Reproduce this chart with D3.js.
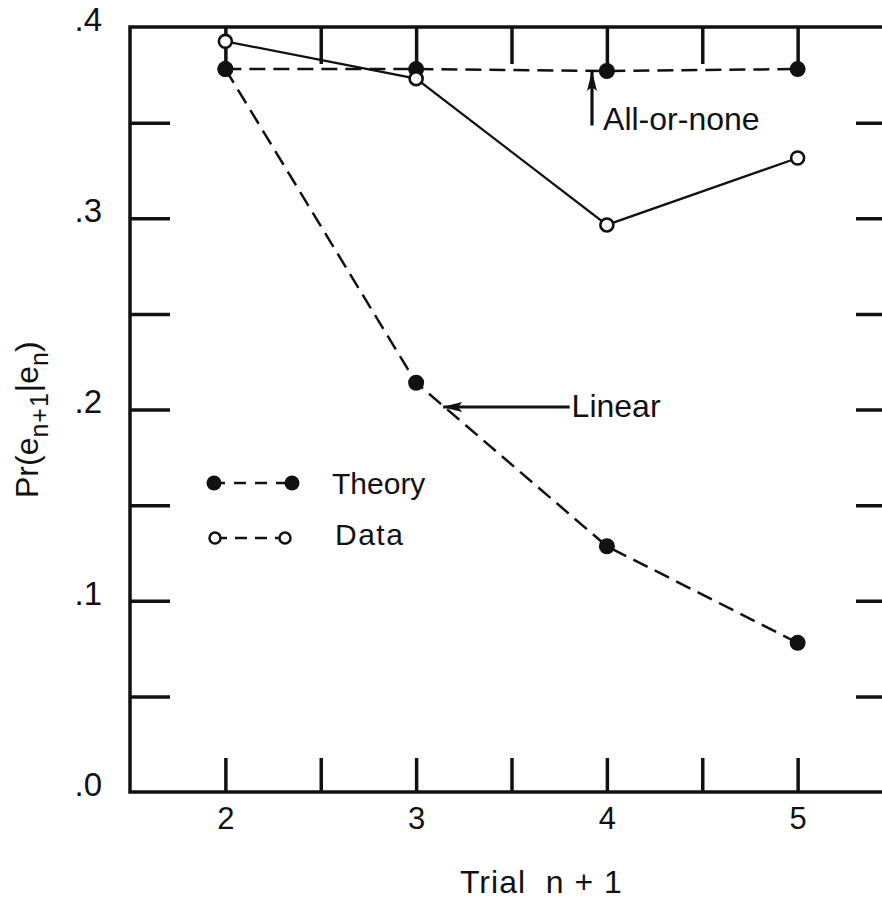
<!DOCTYPE html>
<html>
<head>
<meta charset="utf-8">
<script src="https://cdn.jsdelivr.net/npm/d3@7"></script>
<style>
  html, body { margin: 0; padding: 0; background: #fff; }
  svg { display: block; }
  text { font-family: "Liberation Sans", Arial, sans-serif; fill: #111; }
</style>
</head>
<body>
<svg id="chart" width="882" height="902"></svg>
<script>
// ---- data ----
const trials = [2, 3, 4, 5];
const allOrNone = [0.378, 0.378, 0.377, 0.378];
const linear = [0.378, 0.214, 0.1285, 0.078];
const observed = [0.3925, 0.373, 0.2965, 0.3315];
const xTickValues = [2, 2.5, 3, 3.5, 4, 4.5, 5];
const xTickLabels = ["2", "", "3", "", "4", "", "5"];
const yTickValues = [0, 0.05, 0.1, 0.15, 0.2, 0.25, 0.3, 0.35, 0.4];
const yTickLabels = [".0", "", ".1", "", ".2", "", ".3", "", ".4"];

const svg = d3.select("#chart");
const L = 130, R = 893, T = 27, B = 792;
const x = d3.scaleLinear().domain([1.5, 5.5]).range([L, R]);
const y = d3.scaleLinear().domain([0, 0.4]).range([B, T]);

const ink = "#111";

// ---- frame ----
svg.append("rect").attr("x", L).attr("y", T).attr("width", R - L).attr("height", B - T)
  .attr("fill", "none").attr("stroke", ink).attr("stroke-width", 3.5);

// ---- axes (ticks pointing inward) ----
const bottomAxis = d3.axisBottom(x).tickValues(xTickValues).tickSize(-34).tickPadding(50)
  .tickFormat((d, i) => xTickLabels[i]);
const gB = svg.append("g").attr("transform", `translate(0,${B})`).call(bottomAxis);
gB.select(".domain").remove();
gB.selectAll(".tick line").attr("stroke", ink).attr("stroke-width", 3.5);
gB.selectAll(".tick text").attr("font-size", 31).attr("y", 15).attr("dy", "0.71em");

const topAxis = d3.axisTop(x).tickValues(xTickValues).tickSize(-37).tickFormat("");
const gT = svg.append("g").attr("transform", `translate(0,${T})`).call(topAxis);
gT.select(".domain").remove();
gT.selectAll(".tick line").attr("stroke", ink).attr("stroke-width", 3.5);

const leftAxis = d3.axisLeft(y).tickValues(yTickValues).tickSize(-40)
  .tickFormat((d, i) => yTickLabels[i]);
const gL = svg.append("g").attr("transform", `translate(${L},0)`).call(leftAxis);
gL.select(".domain").remove();
gL.selectAll(".tick line").attr("stroke", ink).attr("stroke-width", 3.5)
  .filter(d => d === 0 || d === 0.4).remove();
gL.selectAll(".tick text").attr("font-size", 33).attr("x", -28).attr("dy", "0.1em");

const rightAxis = d3.axisRight(y).tickValues(yTickValues).tickSize(-37).tickFormat("");
const gR = svg.append("g").attr("transform", `translate(${R},0)`).call(rightAxis);
gR.select(".domain").remove();
gR.selectAll(".tick line").attr("stroke", ink).attr("stroke-width", 3.5)
  .filter(d => d === 0 || d === 0.4).remove();

// ---- lines ----
const line = d3.line().x((d, i) => x(trials[i])).y(d => y(d));

svg.append("path").datum(allOrNone).attr("d", line)
  .attr("fill", "none").attr("stroke", ink).attr("stroke-width", 2.5)
  .attr("stroke-dasharray", "16,8");
svg.append("path").datum(linear).attr("d", line)
  .attr("fill", "none").attr("stroke", ink).attr("stroke-width", 2.5)
  .attr("stroke-dasharray", "16,8");
svg.append("path").datum(observed).attr("d", line)
  .attr("fill", "none").attr("stroke", ink).attr("stroke-width", 2.3);

// ---- markers ----
svg.selectAll(".aon").data(allOrNone).enter().append("circle")
  .attr("cx", (d, i) => x(trials[i])).attr("cy", d => y(d)).attr("r", 8).attr("fill", ink);
svg.selectAll(".lin").data(linear).enter().append("circle")
  .attr("cx", (d, i) => x(trials[i])).attr("cy", d => y(d)).attr("r", 8).attr("fill", ink);
svg.selectAll(".obs").data(observed).enter().append("circle")
  .attr("cx", (d, i) => x(trials[i])).attr("cy", d => y(d)).attr("r", 6.5)
  .attr("fill", "#fff").attr("stroke", ink).attr("stroke-width", 2.6);

// ---- annotations ----
const defs = svg.append("defs");
defs.append("marker").attr("id", "ah").attr("viewBox", "0 0 20 10")
  .attr("refX", 19).attr("refY", 5)
  .attr("markerUnits", "userSpaceOnUse").attr("orient", "auto")
  .attr("markerWidth", 20).attr("markerHeight", 10)
  .append("path").attr("d", "M0,0 L20,5 L0,10 L4,5 Z").attr("fill", ink);

// All-or-none
svg.append("line").attr("x1", x(3.922)).attr("x2", x(3.922))
  .attr("y1", y(0.3485)).attr("y2", y(0.3765))
  .attr("stroke", ink).attr("stroke-width", 3.2).attr("marker-end", "url(#ah)");
svg.append("text").attr("x", x(3.98)).attr("y", y(0.346)).attr("font-size", 32).text("All-or-none");

// Linear
svg.append("line").attr("x1", x(3.805)).attr("x2", x(3.142))
  .attr("y1", y(0.2013)).attr("y2", y(0.2013))
  .attr("stroke", ink).attr("stroke-width", 3.2).attr("marker-end", "url(#ah)");
svg.append("text").attr("x", x(3.815)).attr("y", y(0.196)).attr("font-size", 32).text("Linear");

// ---- legend ----
const lg = svg.append("g");
lg.append("line").attr("x1", 213).attr("x2", 293).attr("y1", 483).attr("y2", 483)
  .attr("stroke", ink).attr("stroke-width", 2.5).attr("stroke-dasharray", "12,9");
lg.append("circle").attr("cx", 214).attr("cy", 483).attr("r", 7.5).attr("fill", ink);
lg.append("circle").attr("cx", 292).attr("cy", 483).attr("r", 7.5).attr("fill", ink);
lg.append("text").attr("x", 332).attr("y", 494).attr("font-size", 30).text("Theory");

lg.append("line").attr("x1", 215).attr("x2", 285).attr("y1", 538).attr("y2", 538)
  .attr("stroke", ink).attr("stroke-width", 2.5).attr("stroke-dasharray", "12,8");
lg.append("circle").attr("cx", 215).attr("cy", 538).attr("r", 5.5)
  .attr("fill", "#fff").attr("stroke", ink).attr("stroke-width", 2.5);
lg.append("circle").attr("cx", 285).attr("cy", 538).attr("r", 5.5)
  .attr("fill", "#fff").attr("stroke", ink).attr("stroke-width", 2.5);
lg.append("text").attr("x", 335).attr("y", 545).attr("font-size", 30)
  .attr("letter-spacing", 1.5).text("Data");

// ---- axis titles ----
svg.append("text").attr("x", 460).attr("y", 893).attr("font-size", 32)
  .attr("letter-spacing", 1).attr("xml:space", "preserve").style("white-space", "pre")
  .text("Trial  n + 1");

const yt = svg.append("text").attr("transform", "translate(38,498) rotate(-90)")
  .attr("font-size", 32);
yt.append("tspan").text("Pr(e");
yt.append("tspan").attr("font-size", 25).attr("dy", 10).attr("letter-spacing", 1).text("n+1");
yt.append("tspan").attr("dy", -10).text("|e");
yt.append("tspan").attr("font-size", 25).attr("dy", 10).text("n");
yt.append("tspan").attr("dy", -10).text(")");
</script>
</body>
</html>
